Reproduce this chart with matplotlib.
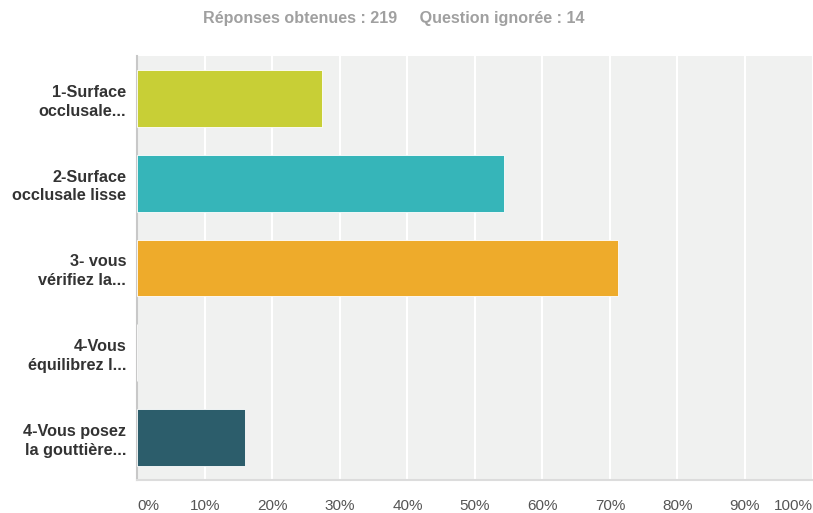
import matplotlib
matplotlib.use("Agg")
import matplotlib.pyplot as plt

# survey answers (percent of 219 respondents)
categories = ["1-Surface\nocclusale...", "2-Surface\nocclusale lisse", "3- vous\nvérifiez la...",
              "4-Vous\néquilibrez l...", "4-Vous posez\nla gouttière..."]
values = [27.40, 54.34, 71.23, 0.0, 15.98]
colors = ["#C8CF36", "#36B5B9", "#EEAB2B", "#3F8FA0", "#2C5D6B"]
ticks = [0, 10, 20, 30, 40, 50, 60, 70, 80, 90, 100]
tick_labels = [str(t) + "%" for t in ticks]

plt.rcParams['font.family'] = ['Liberation Sans', 'DejaVu Sans']

fig = plt.figure(figsize=(8.13, 5.13), dpi=100)
ax = fig.add_axes([137.3 / 813, 1 - 480 / 513, (812.5 - 137.3) / 813, (480 - 56) / 513])
ax.set_facecolor("#F0F1F0")

y = list(range(len(categories)))
ax.barh(y, values, height=0.668, color=colors, edgecolor="white", linewidth=0.6, zorder=3)

ax.set_xlim(0, 100)
ax.set_ylim(len(categories) - 0.5, -0.5)
ax.set_xticks(ticks)
ax.set_xticklabels(tick_labels, fontsize=11, color="#555555")
xl = ax.get_xticklabels()
xl[0].set_ha("left")
xl[-1].set_ha("right")
ax.tick_params(axis="x", length=0, pad=14)

ax.set_yticks(y)
ax.set_yticklabels(categories, fontsize=11.7, fontweight="bold", color="#333333",
                   linespacing=1.3)
ax.tick_params(axis="y", length=0, pad=8)

ax.grid(axis="x", color="white", linewidth=1.5, zorder=1)
ax.set_axisbelow(True)

for s in ["top", "right"]:
    ax.spines[s].set_visible(False)
ax.spines["left"].set_color("#C8C8C8")
ax.spines["left"].set_linewidth(1.5)
ax.spines["bottom"].set_color("#DCDCDC")
ax.spines["bottom"].set_linewidth(1.5)

fig.text(393.5 / 813, 1 - 19 / 513, "Réponses obtenues : 219     Question ignorée : 14",
         ha="center", va="center", fontsize=11.6, fontweight="bold", color="#A0A0A0",
         family=["Liberation Sans Narrow", "Liberation Sans"])

fig.savefig("out.png", dpi=100)
